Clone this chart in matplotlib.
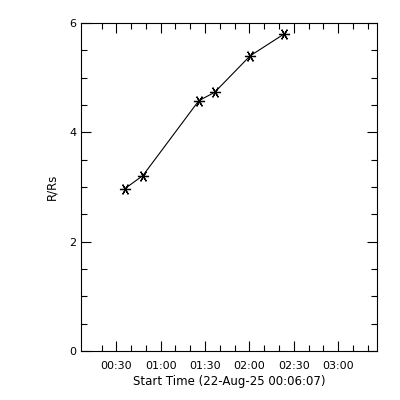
import datetime as dt
import numpy as np
import matplotlib
matplotlib.use("Agg")
import matplotlib.pyplot as plt
import matplotlib.dates as mdates

# ------------- DATA -----------------
DAY = dt.datetime(2025, 8, 22)
START = DAY + dt.timedelta(minutes=6, seconds=7)
END = DAY + dt.timedelta(minutes=206, seconds=7)

obs_minutes = [35.8, 48.0, 85.8, 96.4, 120.5, 143.5]   # minutes after 00:00
heights = [2.97, 3.21, 4.58, 4.73, 5.40, 5.80]          # R/Rs
# ------------------------------------

times = [DAY + dt.timedelta(minutes=m) for m in obs_minutes]

plt.rcParams["font.family"] = "DejaVu Sans"
fig = plt.figure(figsize=(4, 4), dpi=100)
ax = fig.add_axes([0.2025, 0.1225, 0.7395, 0.82])

ax.plot(times, heights, color="black", lw=0.8)
ax.plot(times, heights, linestyle="none", marker=(6, 2, 30),
        markersize=8, markeredgewidth=0.9, color="black")

ax.set_xlim(START, END)
ax.set_ylim(0, 6)

ax.xaxis.set_major_locator(mdates.MinuteLocator(byminute=[0, 30]))
minor_ticks = [DAY + dt.timedelta(minutes=m) for m in range(20, 210, 10)]
ax.set_xticks(minor_ticks, minor=True)
ax.xaxis.set_major_formatter(mdates.DateFormatter("%H:%M"))
ax.set_yticks([0, 2, 4, 6])
ax.set_yticks(np.arange(0, 6.01, 0.5), minor=True)

ax.tick_params(which="both", direction="in", top=True, right=True,
               labelsize=8, width=0.8)
ax.tick_params(axis="x", pad=7)
ax.tick_params(which="major", length=7)
ax.tick_params(which="minor", length=4)
for s in ax.spines.values():
    s.set_linewidth(0.8)

ax.set_xlabel("Start Time (22-Aug-25 00:06:07)", fontsize=8.5, labelpad=3)
ax.set_ylabel("R/Rs", fontsize=8.5, labelpad=8)

fig.savefig("out.png", dpi=100)
plt.close(fig)
